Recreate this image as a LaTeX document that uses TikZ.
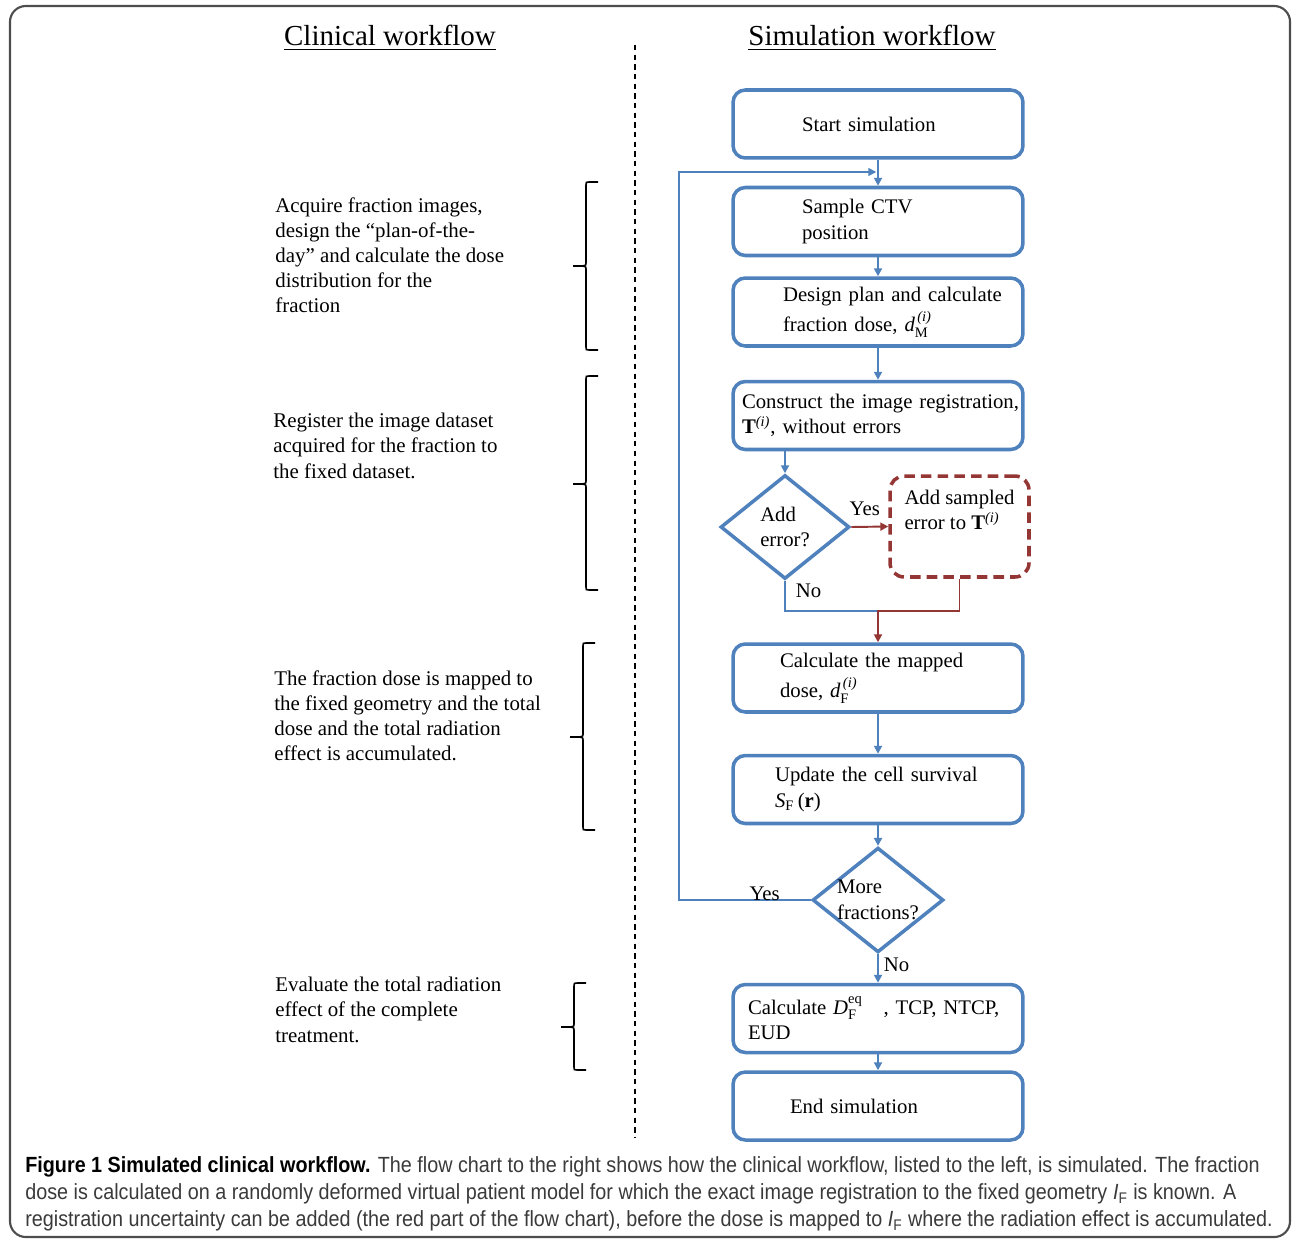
\documentclass[tikz,border=0pt]{standalone}
\usepackage{fontspec}
\usepackage{amsmath}
\setmainfont{Liberation Serif}
\newfontfamily\capfont[FakeStretch=0.9]{Liberation Sans}
\usetikzlibrary{shapes.geometric,arrows.meta}
\definecolor{boxblue}{HTML}{4F81BD}
\definecolor{errred}{HTML}{943634}
\definecolor{capgray}{HTML}{3A3A3A}
\definecolor{framegray}{HTML}{4D4D4D}

\begin{document}
\begin{tikzpicture}[
        x=0.02cm, y=-0.02cm,
        every node/.style={font=\fontsize{11.8}{14.5}\selectfont, inner sep=0pt},
        heading/.style={font=\fontsize{16.5}{18}\selectfont},
        note/.style={anchor=north west, align=left, font=\fontsize{11.9}{14.3}\selectfont},
        stepbox/.style={draw=boxblue, line width=2pt, rounded corners=7pt,
            minimum width=5.8cm, minimum height=1.36cm, align=left},
        decision/.style={diamond, draw=boxblue, line width=2pt, aspect=1.25,
            minimum width=2.58cm, minimum height=2.08cm, align=left},
        errbox/.style={draw=errred, line width=2pt, dash pattern=on 6pt off 3.5pt,
            rounded corners=8pt, minimum width=2.78cm, minimum height=2.02cm, align=left},
        link/.style={draw=boxblue, line width=1.1pt},
        flow/.style={link, -{Triangle[length=4.5pt,width=4.5pt]}},
        errflow/.style={draw=errred, line width=1.1pt, -{Triangle[length=4.5pt,width=4.5pt]}},
        bracket/.style={line width=0.9pt},
        caption/.style={anchor=west, font=\capfont\fontsize{12.5}{14}\selectfont, text=capgray}
    ]
    \useasboundingbox (0,0) rectangle (1293,1240);
    \draw[framegray, line width=1.2pt, rounded corners=9pt] (10,6) rectangle (1290,1237);

    \node[heading] (clinhead) at (390,38) {\underline{Clinical workflow}};
    \node[heading] (simhead) at (872,38) {\underline{Simulation workflow}};
    \draw[line width=0.8pt, dash pattern=on 3pt off 2.5pt] (635,45) -- (635,1138);

    \node[note] (acquire) at (275,197) {Acquire fraction images,\\design the ``plan-of-the-\\day'' and calculate the dose\\distribution for the\\fraction};
    \node[note] (register) at (273,413) {Register the image dataset\\acquired for the fraction to\\the fixed dataset.};
    \node[note] (accumulate) at (274,670) {The fraction dose is mapped to\\the fixed geometry and the total\\dose and the total radiation\\effect is accumulated.};
    \node[note] (evaluate) at (275,977) {Evaluate the total radiation\\effect of the complete\\treatment.};

    \foreach \x/\ya/\ym/\yb in {586/182/266/350, 586/376/484/590, 583/643/737/830, 574/983/1027/1070}
        \draw[bracket] (\x+12,\ya) -- (\x+3,\ya) .. controls (\x,\ya) .. (\x,\ya+3) -- (\x,\ym-3)
            .. controls (\x,\ym) .. (\x-13,\ym) .. controls (\x,\ym) .. (\x,\ym+3)
            -- (\x,\yb-3) .. controls (\x,\yb) .. (\x+3,\yb) -- (\x+12,\yb);

    \node[stepbox, text width=3.04cm] (start) at (878,124) {Start simulation};
    \node[stepbox, text width=3.04cm] (sample) at (878,221.5) {Sample CTV\\position};
    \node[stepbox, text width=3.8cm] (design) at (878,312) {\mbox{Design plan and calculate}\\[3pt]fraction dose, $\textit{d}^{\,\textit{(i)}}_{\textrm{M}}$};
    \node[stepbox, text width=5.44cm] (construct) at (878,415.5) {\mbox{Construct the image registration,}\\\textbf{T}$^{\textit{(i)}}$, without errors};
    \node[decision] (adderr) at (785,527) {Add\\error?};
    \node[errbox, text depth=0.66cm] (sampled) at (959.5,526.5) {Add sampled\\error to \textbf{T}$^{\textit{(i)}}$};
    \node[stepbox, text width=3.92cm] (mapped) at (878,678) {Calculate the mapped\\[3pt]dose, $\textit{d}^{\,\textit{(i)}}_{\textrm{F}}$};
    \node[stepbox, text width=4.12cm] (update) at (878,789.5) {\mbox{Update the cell survival}\\$\textit{S}_{\textrm{F}}$\,(\textbf{r})};
    \node[decision] (more) at (878,900) {More\\fractions?};
    \node[stepbox, text width=5.2cm] (eqdose) at (878,1018.5) {Calculate $\textit{D}^{\textrm{eq}}_{\textrm{F}}$\ \ \ , TCP, NTCP,\\EUD};
    \node[stepbox, text width=3.52cm] (finish) at (878,1106) {End simulation};

    \coordinate (join) at (878,611);
    \coordinate (loopturn) at (679,172);

    \draw[flow] (start) -- (sample);
    \draw[flow] (sample) -- (design);
    \draw[flow] (design) -- (construct);
    \draw[flow] (construct.south -| adderr.north) -- (adderr.north);
    \draw[errflow] (adderr.east) -- node[above=0.2cm, text=black, xshift=-0.1cm] {Yes} (sampled.west);
    \draw[link] (adderr.south) |- node[right=0.2cm, pos=0.17] {No} (join);
    \draw[errflow] (sampled.south) |- (join) -- (mapped.north);
    \draw[flow] (mapped) -- (update);
    \draw[flow] (update) -- (more);
    \draw[flow] (more) -- node[right=0.1cm, pos=0.36] {No} (eqdose);
    \draw[flow] (eqdose) -- (finish);
    \draw[link, line width=0.9pt, -{Triangle[length=4.5pt,width=4.5pt]}, shorten >=1pt]
        (more.west) -- node[anchor=base, pos=0.35] {Yes} (more.west -| loopturn) -- (loopturn) -- (loopturn -| sample.north);

    \node[caption] (capline1) at (25,1167) {{\bfseries\color{black}Figure 1 Simulated clinical workflow.} The flow chart to the right shows how the clinical workflow, listed to the left, is simulated. The fraction};
    \node[caption] (capline2) at (25,1194) {dose is calculated on a randomly deformed virtual patient model for which the exact image registration to the fixed geometry \textit{I}\textsubscript{F} is known. A};
    \node[caption] (capline3) at (25,1221) {registration uncertainty can be added (the red part of the flow chart), before the dose is mapped to \textit{I}\textsubscript{F} where the radiation effect is accumulated.};
\end{tikzpicture}
\end{document}
